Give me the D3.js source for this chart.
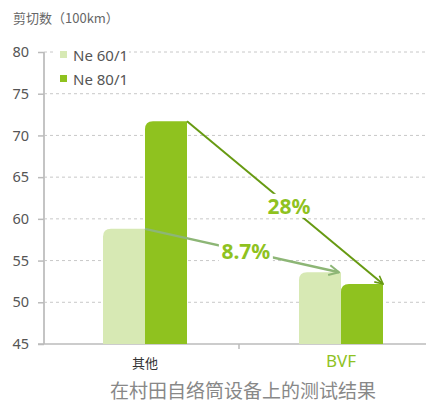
<!DOCTYPE html>
<html>
<head>
<meta charset="utf-8">
<script src="https://d3js.org/d3.v7.min.js"></script>
<style>
  body { margin: 0; background: #fff; font-family: "Noto Sans CJK SC", "Noto Sans", sans-serif; }
</style>
</head>
<body>
<div id="chart"></div>
<script>
// data
const categories = ['其他', 'BVF'];
const series = ['Ne 60/1', 'Ne 80/1'];
const ne60 = [58.8, 53.6];
const ne80 = [71.7, 52.2];
const yTicks = [45, 50, 55, 60, 65, 70, 75, 80];
const drops = [
  { label: '28%', s: 'Ne 80/1' },
  { label: '8.7%', s: 'Ne 60/1' }
];

const width = 426, height = 402;
const colors = { 'Ne 60/1': '#d7e9b4', 'Ne 80/1': '#8fc21f' };

const svg = d3.select('#chart').append('svg')
  .attr('width', width).attr('height', height);

const defs = svg.append('defs');
[['arrDark', '#679a12'], ['arrLight', '#8db676']].forEach(([id, c]) => {
  defs.append('marker').attr('id', id)
    .attr('viewBox', '0 0 10 10').attr('refX', 9).attr('refY', 5)
    .attr('markerWidth', 5).attr('markerHeight', 5).attr('orient', 'auto')
    .append('path').attr('d', 'M1,1 L9,5 L1,9').attr('fill', 'none')
    .attr('stroke', c).attr('stroke-width', 1.6);
});

const y = d3.scaleLinear().domain([45, 80]).range([344, 52]);
const x = d3.scaleBand().domain(categories).range([47, 439]);
const xs = d3.scaleBand().domain(series).range([0, 84]);

// gridlines
svg.append('g').selectAll('line').data(yTicks.slice(1)).enter().append('line')
  .attr('x1', 44).attr('x2', width).attr('y1', d => y(d)).attr('y2', d => y(d))
  .attr('stroke', '#c8c8c8').attr('stroke-dasharray', '3,3');

// y axis
const yAxis = svg.append('g').attr('transform', 'translate(44,0)')
  .call(d3.axisLeft(y).tickValues(yTicks).tickSize(6).tickPadding(9));
yAxis.select('.domain').attr('stroke', '#c4c4c4').attr('stroke-width', 2).attr('d', 'M0,' + y(45) + 'V' + y(80));
yAxis.selectAll('.tick line').attr('stroke', '#bbb').attr('stroke-width', 1.5);
yAxis.selectAll('.tick text').attr('fill', '#555').style('font-size', '14.5px')
  .style('font-family', '"Noto Sans", sans-serif');

// x axis
const xAxis = svg.append('g').attr('transform', 'translate(0,344)');
xAxis.append('line').attr('x1', 38).attr('x2', width).attr('stroke', '#bbb').attr('stroke-width', 1.5);
xAxis.append('line').attr('x1', x('BVF') - 4).attr('x2', x('BVF') - 4).attr('y2', 5)
  .attr('stroke', '#bbb').attr('stroke-width', 1.5);
xAxis.selectAll('text').data(categories).enter().append('text')
  .attr('x', d => x(d) + x.bandwidth() / 2).attr('y', (d, i) => i === 1 ? 23 : 24)
  .attr('text-anchor', 'middle')
  .attr('fill', (d, i) => i === 1 ? '#8fc21f' : '#333')
  .style('font-size', (d, i) => i === 1 ? '17px' : '13px')
  .style('font-family', (d, i) => i === 1 ? '"Noto Sans", sans-serif' : null)
  .text(d => d);

// bars with rounded top-left corner
const r = 8;
function barPath(x0, w, top, bottom) {
  return `M${x0},${bottom} V${top + r} Q${x0},${top} ${x0 + r},${top} H${x0 + w} V${bottom} Z`;
}
const rows = [];
categories.forEach((c, i) => {
  rows.push({ cat: c, s: 'Ne 60/1', v: ne60[i] });
  rows.push({ cat: c, s: 'Ne 80/1', v: ne80[i] });
});
const barX = d => x(d.cat) + (x.bandwidth() - 84) / 2 + xs(d.s);
svg.append('g').selectAll('path').data(rows).enter().append('path')
  .attr('d', d => barPath(barX(d), xs.bandwidth(), y(d.v), y(45)))
  .attr('fill', d => colors[d.s]);

// drop arrows, from the top right corner of each "其他" bar to the matching BVF bar
function pt(c, s) {
  const d = rows.find(r => r.cat === categories[c] && r.s === s);
  return [barX(d) + xs.bandwidth(), y(d.v)];
}
drops.forEach((dr, i) => {
  const a = pt(0, dr.s);
  const b = pt(1, dr.s);
  if (i === 1) b[0] -= 2;
  const col = i === 0 ? '#679a12' : '#8db676';
  svg.append('line').attr('x1', a[0]).attr('y1', a[1]).attr('x2', b[0]).attr('y2', b[1])
    .attr('stroke', col).attr('stroke-width', i === 0 ? 2 : 2.5)
    .attr('marker-end', `url(#${i === 0 ? 'arrDark' : 'arrLight'})`);
  const t = 0.52;
  const mx = a[0] + (b[0] - a[0]) * t, my = a[1] + (b[1] - a[1]) * t;
  const w = i === 0 ? 44 : 54;
  svg.append('rect').attr('x', mx - w / 2).attr('y', my - 12).attr('width', w).attr('height', 24)
    .attr('fill', '#fff');
  svg.append('text').attr('x', mx).attr('y', my + 8).attr('text-anchor', 'middle')
    .attr('fill', '#8fc21f').style('font-size', '21px').style('font-weight', 'bold')
    .style('font-family', '"Noto Sans", sans-serif').text(dr.label);
});

// legend
const legend = svg.append('g').attr('transform', 'translate(55,45)');
legend.append('rect').attr('x', 0).attr('y', 0).attr('width', 74).attr('height', 44).attr('fill', '#fff');
series.forEach((s, i) => {
  const g = legend.append('g').attr('transform', `translate(5,${6 + i * 24})`);
  g.append('rect').attr('width', 7).attr('height', 7).attr('fill', colors[s]);
  g.append('text').attr('x', 13).attr('y', 10).attr('fill', '#555')
    .style('font-size', '15px').style('font-family', '"Noto Sans", sans-serif').text(s);
});

// titles
svg.append('text').attr('x', 13).attr('y', 23).attr('fill', '#666').style('font-size', '13px')
  .text('剪切数（100km）');
svg.append('text').attr('x', 243).attr('y', 398).attr('text-anchor', 'middle').attr('fill', '#888')
  .style('font-size', '19px').text('在村田自络筒设备上的测试结果');
</script>
</body>
</html>
